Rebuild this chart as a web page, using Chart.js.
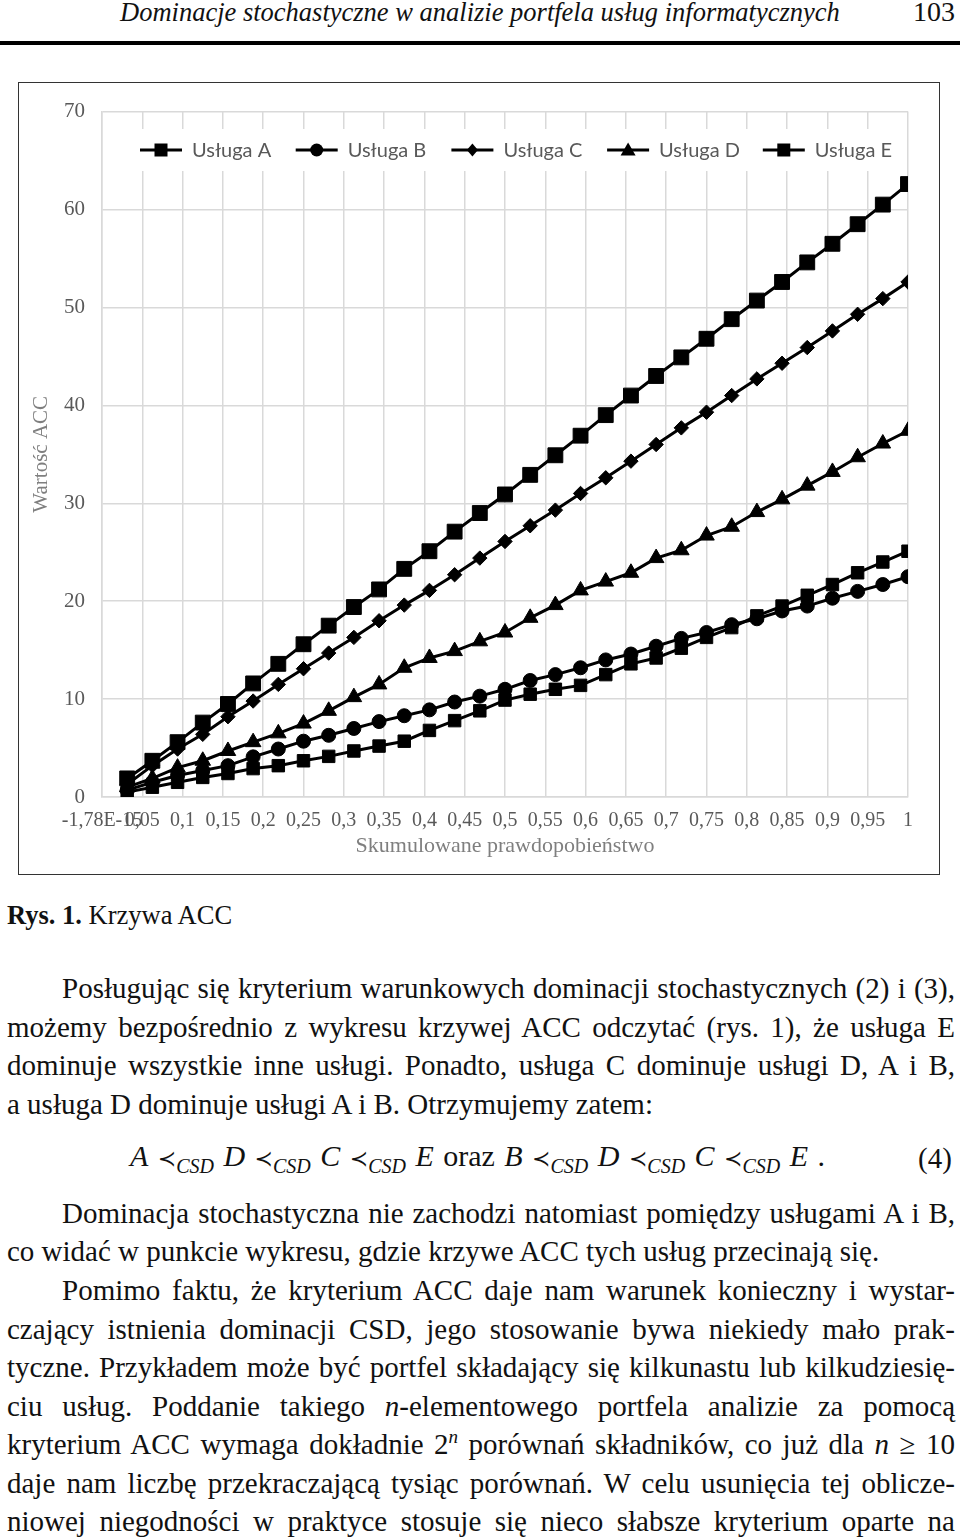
<!DOCTYPE html>
<html lang="pl">
<head>
<meta charset="utf-8">
<title>Krzywa ACC</title>
<script src="https://cdn.jsdelivr.net/npm/chart.js@4.4.1/dist/chart.umd.min.js"></script>
<style>
  html, body { margin: 0; padding: 0; background: #fff; }
  body { width: 960px; height: 1537px; position: relative; overflow: hidden;
         font-family: "Liberation Serif", "Times New Roman", serif; color: #111; }
  .abs { position: absolute; white-space: nowrap; }
  .txt { font-size: 29px; line-height: 38px; }
  .m { font-style: italic; }
  .sub { font-style: italic; font-size: 20px; position: relative; top: 7px; }
  .prec { font-family: "DejaVu Serif", "DejaVu Sans", serif; font-size: 22px; }
  .sup { font-size: 19px; position: relative; top: -11px; font-style: italic; }
  #rule { left: 0; top: 41px; width: 960px; height: 3.5px; background: #000; }
  #wrap { left: 18px; top: 82px; width: 922px; height: 793px; }
  #frame { left: 18px; top: 82px; width: 922px; height: 793px; box-sizing: border-box;
           border: 1.5px solid #333; pointer-events: none; }
</style>
</head>
<body>
<div class="abs" id="title" style="left:120px; top:-4px; font-size:25px; font-style:italic; line-height:32px;" data-w="720">Dominacje stochastyczne w analizie portfela usług informatycznych</div>
<div class="abs" style="left:913px; top:-4px; font-size:28px; line-height:32px;">103</div>
<div class="abs" id="rule"></div>

<div class="abs" id="wrap"><canvas id="chart"></canvas></div>
<div class="abs" id="frame"></div>

<div class="abs" style="left:7px; top:898px; font-size:26.5px; line-height:34px;"><b>Rys. 1.</b> Krzywa ACC</div>

<div class="abs txt j" style="left:62px; top:969px;" data-w="893">Posługując się kryterium warunkowych dominacji stochastycznych (2) i (3),</div>
<div class="abs txt j" style="left:7px; top:1008px;" data-w="948">możemy bezpośrednio z wykresu krzywej ACC odczytać (rys. 1), że usługa E</div>
<div class="abs txt j" style="left:7px; top:1046px;" data-w="948">dominuje wszystkie inne usługi. Ponadto, usługa C dominuje usługi D, A i B,</div>
<div class="abs txt" style="left:7px; top:1085px;">a usługa D dominuje usługi A i B. Otrzymujemy zatem:</div>

<div class="abs txt j" id="formula" style="left:130px; top:1137px; font-size:30px;" data-w="695"><span class="m">A</span> <span class="prec">≺</span><span class="sub">CSD</span> <span class="m">D</span> <span class="prec">≺</span><span class="sub">CSD</span> <span class="m">C</span> <span class="prec">≺</span><span class="sub">CSD</span> <span class="m">E</span> oraz <span class="m">B</span> <span class="prec">≺</span><span class="sub">CSD</span> <span class="m">D</span> <span class="prec">≺</span><span class="sub">CSD</span> <span class="m">C</span> <span class="prec">≺</span><span class="sub">CSD</span> <span class="m">E</span> .</div>
<div class="abs txt" style="left:918px; top:1139px;">(4)</div>

<div class="abs txt j" style="left:62px; top:1194px;" data-w="893">Dominacja stochastyczna nie zachodzi natomiast pomiędzy usługami A i B,</div>
<div class="abs txt" style="left:7px; top:1232px;">co widać w punkcie wykresu, gdzie krzywe ACC tych usług przecinają się.</div>
<div class="abs txt j" style="left:62px; top:1271px;" data-w="893">Pomimo faktu, że kryterium ACC daje nam warunek konieczny i wystar-</div>
<div class="abs txt j" style="left:7px; top:1310px;" data-w="948">czający istnienia dominacji CSD, jego stosowanie bywa niekiedy mało prak-</div>
<div class="abs txt j" style="left:7px; top:1348px;" data-w="948">tyczne. Przykładem może być portfel składający się kilkunastu lub kilkudziesię-</div>
<div class="abs txt j" style="left:7px; top:1387px;" data-w="948">ciu usług. Poddanie takiego <span class="m">n</span>-elementowego portfela analizie za pomocą</div>
<div class="abs txt j" style="left:7px; top:1425px;" data-w="948">kryterium ACC wymaga dokładnie 2<span class="sup">n</span> porównań składników, co już dla <span class="m">n</span> ≥ 10</div>
<div class="abs txt j" style="left:7px; top:1464px;" data-w="948">daje nam liczbę przekraczającą tysiąc porównań. W celu usunięcia tej oblicze-</div>
<div class="abs txt j" style="left:7px; top:1502px;" data-w="948">niowej niegodności w praktyce stosuje się nieco słabsze kryterium oparte na</div>

<script>
// skumulowane prawdopodobieństwo (32 scenariusze)
const probs = [0.03125, 0.0625, 0.09375, 0.125, 0.15625, 0.1875, 0.21875, 0.25,
  0.28125, 0.3125, 0.34375, 0.375, 0.40625, 0.4375, 0.46875, 0.5,
  0.53125, 0.5625, 0.59375, 0.625, 0.65625, 0.6875, 0.71875, 0.75,
  0.78125, 0.8125, 0.84375, 0.875, 0.90625, 0.9375, 0.96875, 1];

const uslugaA = [0.5, 1.0, 1.5, 2.0, 2.4, 2.9, 3.2, 3.7, 4.15, 4.7, 5.2, 5.7, 6.8, 7.8, 8.8, 9.9,
  10.5, 11.0, 11.4, 12.5, 13.6, 14.2, 15.2, 16.3, 17.3, 18.5, 19.5, 20.6, 21.7, 22.9, 24.0, 25.1];
const uslugaB = [0.7, 1.5, 2.2, 2.7, 3.2, 4.1, 4.9, 5.7, 6.3, 7.0, 7.7, 8.3, 8.9, 9.7, 10.3, 11.0,
  11.9, 12.5, 13.2, 14.0, 14.6, 15.4, 16.2, 16.8, 17.6, 18.2, 19.0, 19.5, 20.3, 21.0, 21.7, 22.5];
const uslugaC = [1.3, 3.2, 4.9, 6.4, 8.2, 9.8, 11.5, 13.1, 14.7, 16.3, 18.0, 19.6, 21.1, 22.7, 24.4, 26.1,
  27.7, 29.3, 31.0, 32.6, 34.3, 36.0, 37.7, 39.3, 41.0, 42.7, 44.3, 45.9, 47.6, 49.3, 50.9, 52.6];
const uslugaD = [1.0, 1.9, 3.0, 3.7, 4.7, 5.6, 6.5, 7.5, 8.8, 10.2, 11.5, 13.2, 14.2, 14.9, 15.9, 16.8,
  18.3, 19.6, 21.1, 22.0, 22.9, 24.4, 25.2, 26.7, 27.6, 29.1, 30.4, 31.8, 33.2, 34.7, 36.1, 37.4];
const uslugaE = [1.9, 3.7, 5.6, 7.6, 9.5, 11.6, 13.6, 15.6, 17.5, 19.4, 21.2, 23.3, 25.1, 27.1, 29.0, 30.9,
  32.9, 34.9, 36.9, 39.0, 41.0, 43.0, 44.9, 46.8, 48.8, 50.7, 52.6, 54.6, 56.5, 58.5, 60.5, 62.6];

const names = ['Usługa A', 'Usługa B', 'Usługa C', 'Usługa D', 'Usługa E'];
const styles = ['rect', 'circle', 'rectRot', 'triangle', 'rect'];
const radii = [8.8, 7, 7.2, 9, 10.5];

function series(values, i) {
  return {
    label: names[i],
    data: values.map((v, k) => ({ x: probs[k], y: v })),
    borderColor: '#000',
    backgroundColor: '#000',
    borderWidth: 3,
    pointStyle: styles[i],
    pointRadius: radii[i],
    pointBorderWidth: 1,
    pointBackgroundColor: '#000',
    tension: 0
  };
}

// legenda rysowana wewnątrz obszaru wykresu, na białym pasku
const legendInside = {
  id: 'legendInside',
  beforeDatasetsDraw(chart) {
    const ctx = chart.ctx;
    ctx.save();
    ctx.fillStyle = '#fff';
    ctx.fillRect(109, 47, 778, 42);
    const y = 68;
    ctx.font = '20px Lato, "Open Sans", sans-serif';
    ctx.textBaseline = 'middle';
    names.forEach((n, i) => {
      const x0 = 122 + i * 155.7;
      ctx.strokeStyle = '#000';
      ctx.lineWidth = 3;
      ctx.beginPath();
      ctx.moveTo(x0, y);
      ctx.lineTo(x0 + 42, y);
      ctx.stroke();
      const cx = x0 + 21;
      ctx.fillStyle = '#000';
      ctx.beginPath();
      if (styles[i] === 'rect') {
        ctx.rect(cx - 6.5, y - 6.5, 13, 13);
      } else if (styles[i] === 'circle') {
        ctx.arc(cx, y, 6.5, 0, Math.PI * 2);
      } else if (styles[i] === 'rectRot') {
        ctx.moveTo(cx, y - 6.5); ctx.lineTo(cx + 5.5, y); ctx.lineTo(cx, y + 6.5); ctx.lineTo(cx - 5.5, y);
        ctx.closePath();
      } else {
        ctx.moveTo(cx, y - 7.5); ctx.lineTo(cx + 7.5, y + 5.5); ctx.lineTo(cx - 7.5, y + 5.5);
        ctx.closePath();
      }
      ctx.fill();
      ctx.fillStyle = '#595959';
      ctx.fillText(n, x0 + 52, y + 1);
    });
    ctx.restore();
  }
};

function setup() {
  // justowanie wierszy tekstu
  document.querySelectorAll('.j').forEach(el => {
    const target = parseFloat(el.dataset.w);
    const natural = el.getBoundingClientRect().width;
    const spaces = (el.textContent.match(/ /g) || []).length;
    if (spaces) el.style.wordSpacing = ((target - natural) / spaces) + 'px';
  });
  const t = document.getElementById('title');
  const tw = t.getBoundingClientRect().width;
  t.style.fontSize = (25 * 720 / tw) + 'px';

  const ctx = document.getElementById('chart').getContext('2d');
  const tickFont = { family: '"Liberation Serif", "Times New Roman", serif', size: 20 };
  new Chart(ctx, {
    type: 'line',
    data: {
      datasets: [series(uslugaA, 0), series(uslugaB, 1), series(uslugaC, 2), series(uslugaD, 3), series(uslugaE, 4)]
    },
    options: {
      responsive: true,
      maintainAspectRatio: false,
      animation: false,
      layout: { padding: { top: 25, right: 32, left: 0, bottom: 0 } },
      plugins: { legend: { display: false }, tooltip: { enabled: false } },
      scales: {
        x: {
          type: 'linear',
          min: 0,
          max: 1,
          afterFit(scale) { scale.height = 78; },
          ticks: {
            stepSize: 0.05,
            autoSkip: false,
            maxRotation: 0,
            minRotation: 0,
            padding: 12,
            color: '#595959',
            font: tickFont,
            callback: v => (v === 0 ? '-1,78E-15' : String(Math.round(v * 100) / 100).replace('.', ','))
          },
          grid: { color: '#d9d9d9', lineWidth: 1.5, drawTicks: false },
          border: { color: '#d9d9d9', width: 1.5 },
          title: {
            display: true,
            text: 'Skumulowane prawdopobieństwo',
            color: '#7f7f7f',
            font: { family: '"Liberation Serif", "Times New Roman", serif', size: 22 },
            padding: { top: 0, bottom: 16 }
          }
        },
        y: {
          min: 0,
          max: 70,
          afterFit(scale) { scale.width = 84; },
          ticks: { stepSize: 10, padding: 17, color: '#595959', font: { family: tickFont.family, size: 21 } },
          grid: { color: '#d9d9d9', lineWidth: 1.5, drawTicks: false },
          border: { color: '#d9d9d9', width: 1.5 },
          title: {
            display: true,
            text: 'Wartość ACC',
            color: '#7f7f7f',
            font: { family: tickFont.family, size: 21 },
            padding: { top: 11, bottom: 0 }
          }
        }
      }
    },
    plugins: [legendInside]
  });
}

window.addEventListener('load', setup);
</script>
</body>
</html>
